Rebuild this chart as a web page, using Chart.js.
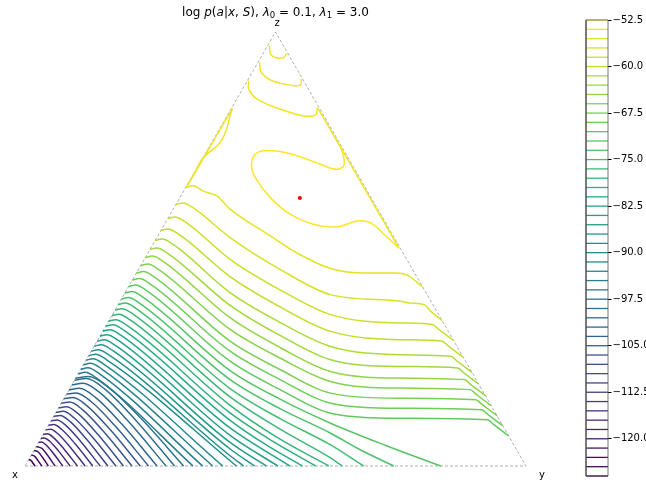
<!DOCTYPE html>
<html>
<head>
<meta charset="utf-8">
<script src="https://cdn.jsdelivr.net/npm/chart.js@4.4.1/dist/chart.umd.min.js"></script>
<style>
  html, body { margin: 0; padding: 0; overflow: hidden; background: #fff; }
  #wrap { position: relative; width: 646px; height: 483px; font-family: "DejaVu Sans", sans-serif; }
  #main { position: absolute; left: 0; top: 0; }
  #cbar { position: absolute; left: 560px; top: 0; }
  #title { position: absolute; left: 0; top: 5px; width: 551px; text-align: center; font-size: 12px;
           line-height: 14px; color: #000; white-space: nowrap; }
  #title sub { font-size: 8.5px; line-height: 0; vertical-align: -2px; }
</style>
</head>
<body>
<div id="wrap">
  <canvas id="main" width="646" height="483"></canvas>
  <canvas id="cbar" width="130" height="483"></canvas>
  <div id="title">log <i>p</i>(<i>a</i>|<i>x</i>, <i>S</i>), <i>λ</i><sub>0</sub> = 0.1, <i>λ</i><sub>1</sub> = 3.0</div>
</div>
<script>
// --- data (simplex coords: base 0..100, height 0..86.6) ----------------------
const VERTEX_NAMES = ['x', 'y', 'z'];
const VERTEX_POS = [[-2, -2.3], [103.2, -2.3], [50.3, 87.8]];
const TRIANGLE = [[0, 0], [100, 0], [50, 86.6], [0, 0]];
const OPTIMUM = [[54.86, 53.46]];

const CB_LEVELS = [-52.5, -54, -55.5, -57, -58.5, -60, -61.5, -63, -64.5, -66, -67.5, -69, -70.5, -72, -73.5,
  -75, -76.5, -78, -79.5, -81, -82.5, -84, -85.5, -87, -88.5, -90, -91.5, -93, -94.5, -96, -97.5, -99, -100.5,
  -102, -103.5, -105, -106.5, -108, -109.5, -111, -112.5, -114, -115.5, -117, -118.5, -120, -121.5, -123,
  -124.5, -126];
const CB_TICKS = [-52.5, -60, -67.5, -75, -82.5, -90, -97.5, -105, -112.5, -120];

// contours near the z corner and around the maximum
const TOP_LINES = [
  [[48.8, 83.86], [49, 82.2], [50.34, 81.4], [51.66, 81.54], [52.2, 82.34]],
  [[46.86, 80.54], [47, 78.86], [48, 77.66], [49.66, 76.74], [53, 76], [55, 76], [55.14, 77.2]],
  [[44.66, 76.86], [44.66, 75.2], [46.34, 73.2], [51, 71.2], [55.66, 69.86], [58, 70.06], [58.34, 71.54]],
  [[32.2, 55.6], [33.66, 58.2], [35.34, 61.2], [36.66, 62.54], [38.34, 63.86], [39.54, 65.54], [40.34, 67.54],
    [41, 70.2], [41.34, 71.2], [39.2, 67.6], [36.9, 63.65], [34.55, 59.6], [32.2, 55.6]],
  [[58.5, 71.3], [61, 67.0], [64, 61.9], [67, 56.7], [70, 51.5], [72.5, 47.2], [74.6, 43.5]],
];
const TOP_LEVELS = [-54, -54, -54, -54, -54];
const PEAK_LINE = [[63, 63.9], [63.7, 60.2], [62.3, 59.2], [59, 60.2], [54.3, 61.9], [49.7, 62.9], [46.3, 62.5],
  [45.2, 60.2], [46, 57.5], [49, 53.5], [53, 50.2], [57.7, 48.2], [62.3, 47.7], [66.3, 48.9], [69, 48.5],
  [71.7, 46.2], [74.7, 43.4]];
const PEAK_LEVEL = -52.5;

// lines from the x-z edge that bend down onto the y-z edge
const RIGHT_EDGE_LINES = [
  [[32.1, 55.6], [33.5, 55.9], [35.7, 54.8], [38.3, 53.9], [41, 51.2], [49, 45.9], [54.3, 42.5], [61, 39.4],
    [67.6, 38.5], [74.3, 38.5], [76.7, 37.9], [78, 36.9], [79.2, 35.8]],
  [[30.14, 52.2], [31.54, 52.5], [33.74, 51.4], [41, 45.54], [51, 39.2], [61, 34.2], [75, 32.86], [77, 32.5],
    [79.66, 32.2], [81, 30.86], [83.26, 29.0]],
  [[28.52, 49.4], [29.92, 49.7], [32.12, 48.6], [41, 41.2], [51, 35.1], [61, 30.2], [75, 28.54], [81.32, 28.24],
    [82.62, 27.24], [85.54, 25.04]],
  [[27.14, 47.0], [28.54, 47.3], [30.74, 46.2], [41, 37.74], [51, 31.7], [61, 26.86], [75, 25.2], [83.25, 24.9],
    [84.55, 23.9], [87.47, 21.7]],
  [[25.98, 45.0], [27.38, 45.3], [29.58, 44.2], [41, 34.54], [51, 28.6], [61, 23.86], [75, 22.2], [84.98, 21.9],
    [86.28, 20.9], [89.2, 18.7]],
  [[24.94, 43.2], [26.34, 43.5], [28.54, 42.4], [41, 32.0], [51, 26.0], [61, 21.2], [75, 19.86], [86.33, 19.56],
    [87.63, 18.56], [90.55, 16.36]],
  [[24.02, 41.6], [25.42, 41.9], [27.62, 40.8], [41, 29.54], [51, 23.6], [61, 18.86], [75, 17.54], [87.67, 17.24],
    [88.97, 16.24], [91.89, 14.04]],
  [[23.09, 40.0], [24.49, 40.3], [26.69, 39.2], [41, 27.2], [51, 21.5], [61, 16.86], [75, 15.54],
    [88.83, 15.24], [90.13, 14.24], [93.05, 12.04]],
  [[22.23, 38.5], [23.63, 38.8], [25.83, 37.7], [41, 24.86], [51, 19.2], [61, 14.54], [75, 13.54],
    [89.98, 13.24], [91.28, 12.24], [94.2, 10.04]],
  [[21.42, 37.1], [22.82, 37.4], [25.02, 36.3], [41, 22.86], [51, 17.2], [61, 12.54], [75, 11.54],
    [91.14, 11.24], [92.44, 10.24], [95.36, 8.04]],
  [[20.67, 35.8], [22.07, 36.1], [24.27, 35.0], [41, 20.86], [51, 15.2], [61, 10.54], [75, 9.54],
    [92.29, 9.24], [93.59, 8.24], [96.51, 6.04]],
];

// lines from the x-z edge down to the x-y edge
const BOTTOM_LINES = [
  [[19.92, 34.5], [21.32, 34.8], [23.52, 33.7], [41, 19.0], [51, 13.3], [61, 8.54], [72, 4.1], [83, 0]],
  [[19.23, 33.3], [20.63, 33.6], [22.83, 32.5], [41, 17.2], [51, 11.4], [61, 6.54], [67, 3.2], [73.6, 0]],
  [[18.59, 32.2], [19.99, 32.5], [22.19, 31.4], [41, 15.4], [51, 9.4], [61, 4.2], [67.6, 0]],
  [[17.96, 31.1], [19.36, 31.4], [21.56, 30.3], [41, 13.74], [51, 7.3], [61, 1.6], [63.34, 0]],
  [[17.32, 30.0], [18.72, 30.3], [20.92, 29.2], [41, 12.06], [50.5, 5.6], [60.66, 0]],
  [[16.69, 28.9], [18.09, 29.2], [20.29, 28.1], [41, 10.54], [49.5, 4.9], [58, 0]],
  [[16.11, 27.9], [17.51, 28.2], [19.71, 27.1], [41, 9.06], [48, 4.3], [55.34, 0]],
  [[15.53, 26.9], [16.93, 27.2], [19.13, 26.1], [41, 7.54], [52.86, 0]],
  [[14.95, 25.9], [16.35, 26.2], [18.55, 25.1], [41, 6.06], [50.46, 0]],
  [[14.38, 24.9], [15.78, 25.2], [17.98, 24.1], [41, 4.66], [48.14, 0]],
  [[13.8, 23.9], [15.2, 24.2], [17.4, 23.1], [41, 3.34], [45.86, 0]],
  [[13.22, 22.9], [14.62, 23.2], [16.82, 22.1], [41, 2.0], [43.66, 0]],
  [[12.7, 22.0], [14.1, 22.3], [16.3, 21.2], [42.2, 0]],
  [[12.18, 21.1], [13.58, 21.4], [15.78, 20.3], [39.46, 0]],
  [[11.66, 20.2], [13.06, 20.5], [15.26, 19.4], [37.46, 0]],
  [[11.14, 19.3], [12.54, 19.6], [14.74, 18.5], [35.46, 0]],
  [[10.62, 18.4], [12.02, 18.7], [14.22, 17.6], [33.54, 0]],
  [[10.1, 17.5], [12.69, 17.85], [16.57, 15.75], [23.04, 9.62], [31.66, 0]],
];

// tight arcs packed into the x corner
const CORNER_LINES = [
  [[9.87, 17.1], [12.27, 17.44], [15.87, 15.39], [21.87, 9.4], [29.86, 0]],
  [[9.35, 16.2], [11.6, 16.52], [14.99, 14.58], [20.62, 8.91], [28.14, 0]],
  [[8.78, 15.2], [10.89, 15.5], [14.05, 13.68], [19.32, 8.36], [26.34, 0]],
  [[8.26, 14.3], [10.23, 14.59], [13.18, 12.87], [18.1, 7.86], [24.66, 0]],
  [[7.74, 13.4], [9.57, 13.67], [12.32, 12.06], [16.9, 7.37], [23, 0]],
  [[7.22, 12.5], [8.91, 12.75], [11.46, 11.25], [15.69, 6.87], [21.34, 0]],
  [[6.7, 11.6], [8.26, 11.83], [10.59, 10.44], [14.48, 6.38], [19.66, 0]],
  [[6.18, 10.7], [7.62, 10.91], [9.77, 9.63], [13.36, 5.88], [18.14, 0]],
  [[5.72, 9.9], [7.02, 10.1], [8.97, 8.91], [12.21, 5.44], [16.54, 0]],
  [[5.2, 9.0], [6.38, 9.18], [8.14, 8.1], [11.08, 4.95], [15, 0]],
  [[4.68, 8.1], [5.74, 8.26], [7.34, 7.29], [10, 4.45], [13.54, 0]],
  [[4.16, 7.2], [5.1, 7.34], [6.51, 6.48], [8.86, 3.96], [12, 0]],
  [[3.64, 6.3], [4.46, 6.43], [5.69, 5.67], [7.73, 3.46], [10.46, 0]],
  [[3.18, 5.5], [3.88, 5.61], [4.93, 4.95], [6.67, 3.02], [9, 0]],
  [[2.71, 4.7], [3.29, 4.79], [4.16, 4.23], [5.61, 2.58], [7.54, 0]],
  [[2.25, 3.9], [3.38, 3.51], [4.5, 2.14], [6, 0]],
  [[1.79, 3.1], [2.65, 2.79], [3.51, 1.7], [4.66, 0]],
  [[1.27, 2.2], [1.89, 1.98], [2.51, 1.21], [3.34, 0]],
  [[0.75, 1.3], [1.13, 1.17], [1.5, 0.71], [2, 0]],
];

const LOWER_LEVELS = [-55.5, -57, -58.5, -60, -61.5, -63, -64.5, -66, -67.5, -69, -70.5, -72, -73.5, -75,
  -76.5, -78, -79.5, -81, -82.5, -84, -85.5, -87, -88.5, -90, -91.5, -93, -94.5, -96, -97.5, -99, -100.5,
  -102, -103.5, -105, -106.5, -108, -109.5, -111, -112.5, -114, -115.5, -117, -118.5, -120, -121.5, -123,
  -124.5, -126];

// --- colours -----------------------------------------------------------------
const VIRIDIS = [[68, 1, 84], [72, 36, 117], [65, 68, 135], [53, 95, 141], [42, 120, 142], [33, 145, 140],
  [34, 168, 132], [68, 191, 112], [122, 209, 81], [189, 223, 38], [253, 231, 37]];
const vmin = CB_LEVELS[CB_LEVELS.length - 1], vmax = CB_LEVELS[0];
function viridis(v) {
  const t = Math.min(1, Math.max(0, (v - vmin) / (vmax - vmin))) * (VIRIDIS.length - 1);
  const i = Math.min(VIRIDIS.length - 2, Math.floor(t)), f = t - i;
  const c = VIRIDIS[i].map((a, k) => Math.round(a + (VIRIDIS[i + 1][k] - a) * f));
  return `rgb(${c[0]},${c[1]},${c[2]})`;
}

// --- chart -------------------------------------------------------------------
Chart.defaults.font.family = '"DejaVu Sans", sans-serif';
Chart.defaults.color = '#000';

const pts = (arr) => arr.map(([x, y]) => ({ x, y }));
const contour = (arr, lvl, tension = 0.4) => ({
  data: pts(arr), showLine: true, borderColor: viridis(lvl), borderWidth: 1.5,
  tension, pointRadius: 0, clip: false,
});
// lower family runs left to right, so a monotone spline keeps it free of overshoot
const smoothContour = (arr, lvl) => ({ ...contour(arr, lvl), cubicInterpolationMode: 'monotone' });

const lower = [...RIGHT_EDGE_LINES, ...BOTTOM_LINES, ...CORNER_LINES];
const datasets = [
  { data: pts(OPTIMUM), pointRadius: 2, pointBackgroundColor: '#ff0000', pointBorderWidth: 0, clip: false },
  contour(PEAK_LINE, PEAK_LEVEL),
  ...TOP_LINES.map((l, i) => contour(l, TOP_LEVELS[i], i === 3 ? 0.25 : 0.4)),
  ...lower.map((l, i) => smoothContour(l, LOWER_LEVELS[i])),
  { data: pts(TRIANGLE), showLine: true, borderColor: '#9a9a9a', borderWidth: 0.8, borderDash: [3, 2],
    tension: 0, pointRadius: 0, clip: false },
];

const vertexLabels = {
  id: 'vertexLabels',
  afterDraw(chart) {
    const { ctx, scales: { x, y } } = chart;
    ctx.save();
    ctx.font = '10px "DejaVu Sans"';
    ctx.fillStyle = '#000';
    ctx.textAlign = 'center';
    ctx.textBaseline = 'alphabetic';
    VERTEX_NAMES.forEach((n, i) => ctx.fillText(n, x.getPixelForValue(VERTEX_POS[i][0]), y.getPixelForValue(VERTEX_POS[i][1])));
    ctx.restore();
  },
};

new Chart(document.getElementById('main'), {
  type: 'scatter',
  data: { datasets },
  options: {
    responsive: false, animation: false, devicePixelRatio: 1,
    layout: { padding: { left: 25, right: 120, top: 32, bottom: 17 } },
    plugins: { legend: { display: false }, tooltip: { enabled: false } },
    scales: {
      x: { type: 'linear', min: 0, max: 100, display: false },
      y: { type: 'linear', min: 0, max: 86.6, display: false },
    },
  },
  plugins: [vertexLabels],
});

// --- colorbar ----------------------------------------------------------------
const cbSets = [
  { data: pts([[0, vmin], [1, vmin], [1, vmax], [0, vmax], [0, vmin]]), showLine: true, borderColor: '#555',
    borderWidth: 0.8, tension: 0, pointRadius: 0, clip: false },
  ...CB_LEVELS.map((lvl) => ({ data: pts([[0, lvl], [1, lvl]]), showLine: true, borderColor: viridis(lvl),
    borderWidth: 1.3, pointRadius: 0, clip: false })),
];

new Chart(document.getElementById('cbar'), {
  type: 'scatter',
  data: { datasets: cbSets },
  options: {
    responsive: false, animation: false, devicePixelRatio: 1,
    layout: { padding: { left: 26, right: 0, top: 20, bottom: 5.7 } },
    plugins: { legend: { display: false }, tooltip: { enabled: false } },
    scales: {
      x: { type: 'linear', min: 0, max: 1, display: false },
      y: {
        type: 'linear', position: 'right', min: vmin, max: vmax,
        afterFit: (s) => { s.width = 82; },
        afterBuildTicks: (s) => { s.ticks = CB_TICKS.map((v) => ({ value: v })); },
        border: { display: false },
        grid: { drawOnChartArea: false, drawTicks: true, tickLength: 3.5, tickColor: '#000' },
        ticks: {
          autoSkip: false, padding: 1, color: '#000', font: { size: 10 },
          callback: (v) => '\u2212' + Math.abs(v).toFixed(1),
        },
      },
    },
  },
});
</script>
</body>
</html>
